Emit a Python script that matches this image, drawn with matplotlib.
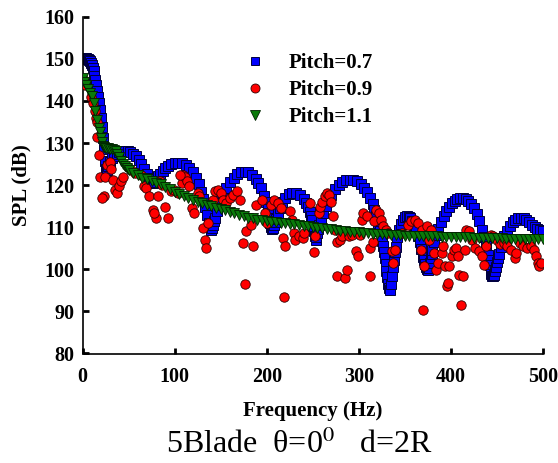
import matplotlib
matplotlib.use("Agg")
import matplotlib.pyplot as plt
from matplotlib.lines import Line2D

plt.rcParams['font.family'] = ['Liberation Serif', 'DejaVu Serif']
plt.rcParams['mathtext.fontset'] = 'stix'

# ---------------- data ----------------
blue_f = [0, 1, 2, 3, 4, 5, 6, 7, 8, 9, 10, 11, 12, 13, 14, 15, 16, 17, 18, 19, 20, 21, 22, 23, 24, 25, 26,
          27, 28, 30, 32, 34, 37, 40, 43, 46, 49, 52, 55, 58, 61, 64, 67, 70, 72, 74, 76, 77,
          78, 80, 82, 84, 87, 90, 93, 96, 100, 104, 108, 112, 116, 120, 123, 126, 129, 131, 133, 135, 137, 139, 140,
          141, 142, 143, 144, 146, 148, 150, 153, 156, 160, 164, 168, 172, 176, 180, 184, 188, 191, 194, 197, 199,
          201, 202, 203, 204, 205, 206,
          207, 208, 209, 210, 212, 214, 217, 220, 224, 228, 232, 236, 240, 243, 245, 247, 248, 249, 250, 251, 252, 253,
          254, 255, 256, 257, 259, 261, 264, 267, 270, 274, 278, 282, 286, 290, 294, 298, 302, 306, 309, 312, 315,
          317, 319, 321, 323, 325, 326, 327, 328, 329, 330, 331, 332, 333, 334,
          335, 336, 337, 338, 339, 340, 342, 344, 346, 348, 350, 352, 354, 356, 358, 360, 362, 364, 366, 368, 370,
          371, 372, 373, 374, 375, 376,
          377, 378, 379, 380, 382, 384, 386, 389, 392, 395, 398, 401, 404, 407, 410, 413, 416, 419, 422, 425, 428,
          431, 434, 436, 438, 440, 441, 442, 443, 444, 445, 446, 447,
          448, 449, 450, 451, 452, 454, 456, 458, 461, 464, 467, 470, 473, 476, 479, 482, 485, 488, 491, 494, 497, 500]
blue_v = [150.1, 150.1, 150.1, 150.1, 150.1, 150.0, 150.0, 149.8, 149.5, 149.1, 148.5, 147.8, 147.0, 146.0, 144.9,
          143.7, 142.4, 141.0, 139.5, 137.8, 135.9, 133.7, 131.2, 128.5, 125.8, 123.8, 123.0,
          123.6, 124.5, 125.6, 126.4, 127.0, 127.5, 127.8, 128.0, 128.1, 128.0, 127.8, 127.4, 126.8, 126.0, 125.0,
          123.8, 122.6, 121.8, 121.1, 120.6, 120.4,
          120.7, 121.4, 122.1, 122.7, 123.4, 124.0, 124.5, 124.9, 125.2, 125.3, 125.2, 124.8, 124.1, 123.0, 121.8,
          120.3, 118.3, 116.7, 114.9, 112.9, 110.9, 109.6, 109.4,
          109.8, 110.5, 111.4, 112.3, 113.9, 115.3, 116.5, 118.0, 119.3, 120.7, 121.8, 122.6, 123.1, 123.2, 123.0,
          122.4, 121.5, 120.5, 119.2, 117.5, 116.0,
          114.3, 113.3, 112.2, 111.1, 110.1, 109.5,
          109.8, 110.5, 111.3, 112.0, 113.4, 114.6, 116.0, 117.0, 117.8, 118.1, 118.1, 117.7, 116.8, 115.8, 114.8,
          113.5, 112.6, 111.6, 110.4, 109.1, 107.8, 107.0,
          107.6, 108.6, 109.6, 110.5, 112.0, 113.3, 115.0, 116.5, 117.7, 119.0, 120.0, 120.7, 121.1, 121.3, 121.3,
          121.0, 120.3, 119.3, 118.3, 117.0, 115.4,
          114.1, 112.6, 110.9, 109.0, 106.8, 105.5, 104.2, 102.8, 101.3, 99.7, 98.1, 96.6, 95.6, 95.2,
          96.5, 98.5, 100.5, 102.3, 104.0, 105.4, 107.7, 109.4, 110.7, 111.7, 112.4, 112.6, 112.5, 112.1, 111.4,
          110.5, 109.4, 108.0, 106.5, 104.8, 103.0,
          102.1, 101.2, 100.5, 100.0, 99.9, 100.2,
          101.4, 102.6, 103.7, 104.7, 106.5, 108.1, 109.5, 111.2, 112.7, 113.9, 114.9, 115.7, 116.3, 116.7, 116.9,
          116.9, 116.7, 116.2, 115.5, 114.5, 113.2,
          111.5, 109.3, 107.6, 105.6, 103.4, 102.2, 101.0, 99.9, 99.0, 98.4, 98.3, 98.6,
          99.5, 100.6, 101.7, 102.7, 103.6, 105.2, 106.6, 107.8, 109.2, 110.3, 111.2, 111.8, 112.2, 112.3, 112.1,
          111.7, 111.2, 110.6, 110.1, 109.6, 109.3, 109.0]

red_f = [0, 3, 9, 11.6, 14, 14.7, 15.5, 15.5, 17.8, 19.3, 23.2, 21.7, 24.4, 26.3, 30, 31, 33.3, 34.8, 37, 39.8,
         41.8, 43.7, 49.5, 53, 57, 63, 67, 69, 72.7, 76.6, 79.7, 77.7, 82.4, 84.3, 86.2, 90, 92.8, 95.9, 99.8,
         103.6, 107.5, 109.4, 111.4, 113.3, 115.2, 105.6, 119.1, 121, 124.9, 126.8, 130.7, 132.6, 133.8, 136.5,
         141.5, 144.2, 147, 150, 153, 155.8, 159.7, 163.6, 167.4, 171.3, 174, 176.3, 177.1, 185.6, 182.9, 188.7,
         194.5, 198.4, 200.3, 204.2, 208, 211.9, 215.8, 217.7, 219.6, 218.5, 225.4, 227.4, 229.3, 231.2, 235,
         238.9, 240.9, 246.7, 252.5, 251.4, 256.4, 258.3, 260.2, 262.9, 265.3, 268, 270, 271.9, 273.8, 275.8,
         275.8, 279.6, 282.3, 285.4, 287.3, 289.2, 293.1, 297, 299, 301, 303, 304.7, 308.6, 311.7, 312.5, 315.5,
         316.3, 318.3, 322.1, 324, 326, 329.8, 331.8, 335.6, 337.6, 339.5, 347.2, 353, 357, 360.8, 364.7, 368.6,
         369.7, 367.7, 371.2, 374.3, 378.2, 376.3, 382.1, 384, 386, 389.8, 391.8, 393.7, 395.6, 396.8, 398.3,
         401.4, 403.3, 405.3, 407.2, 409.1, 411, 413, 415, 416.9, 420, 422.7, 426.5, 430.4, 434.3, 436.1, 438.1,
         443.1, 445.8, 449.7, 453.6, 457.4, 461.3, 465.2, 469.1, 471, 474.9, 478.7, 482.6, 486.5, 490.4, 492.3,
         495.1, 496.1, 498]
red_v = [145.2, 143.8, 141.0, 139.4, 137.5, 135.9, 135.1, 131.5, 127.2, 122.0, 117.3, 116.9, 122.0, 124.8,
         125.6, 123.8, 121.3, 118.9, 118.1, 119.7, 120.9, 122.0, 124.4, 123.6, 122.8, 122.4, 119.7, 119.3, 117.3,
         114.2, 112.2, 113.4, 117.3, 120.9, 120.1, 114.9, 112.2, 118.5, 118.9, 118.1, 120.5, 122.4, 122.0, 120.9,
         119.7, 122.4, 114.5, 113.4, 118.1, 117.3, 109.8, 107.0, 105.0, 111.0,
         116.5, 118.5, 118.9, 118.1, 116.5, 115.7, 116.9, 117.7, 118.5, 116.5, 106.2, 96.4, 109.0, 105.5, 110.6,
         115.3, 116.5, 113.4, 111.0, 115.3, 116.5, 115.7, 114.5, 107.4, 105.5, 93.4, 113.8, 111.8, 108.6, 107.0,
         107.8, 107.4, 108.6, 115.7, 107.8, 104.0, 113.4, 114.9, 116.1, 117.3, 118.1, 117.7, 116.1, 112.6, 109.4,
         106.6, 98.3, 107.0, 107.8, 97.9, 99.9, 107.8, 108.2, 104.3, 103.1, 108.2, 111.8, 113.4, 112.6, 105.1,
         98.3, 106.6, 111.4, 114.2, 113.4, 111.8, 110.2, 109.4, 108.6, 104.3, 101.5, 104.7, 108.6, 110.6, 111.4,
         111.8, 111.0, 109.4, 90.4, 104.7, 100.7, 110.2, 109.4, 107.0, 103.9, 99.9, 101.5, 103.9, 105.5, 100.7,
         96.0, 96.8, 100.7, 103.1, 104.7, 105.1, 103.1, 98.7, 91.6, 98.5, 104.5, 109.4, 109.0, 107.0, 105.1,
         104.3, 103.1, 101.1, 105.5, 108.2, 107.8, 107.0, 105.9, 106.2, 105.5, 104.7, 102.7, 103.9, 106.2, 105.5,
         105.1, 105.5, 104.7, 103.1, 101.5, 100.7, 101.5]

green_f = [0, 2, 4, 6, 8, 10, 12, 14, 16, 18, 19, 20, 21, 22, 23, 24, 26, 28, 30, 32, 34, 36, 38, 40, 42, 44,
           46, 48, 50, 55, 60, 65, 70, 75, 80, 85, 90, 95, 100, 105, 110, 115, 120, 125, 130, 135, 140, 145,
           150, 155, 160, 165, 170, 175, 180, 185, 190, 195, 200, 205, 210, 215, 220, 225, 230, 235, 240, 245,
           250, 255, 260, 265, 270, 275, 280, 285, 290, 295, 300, 305, 310, 315, 320, 325, 330, 335, 340, 345,
           350, 355, 360, 365, 370, 375, 380, 385, 390, 395, 400, 405, 410, 415, 420, 425, 430, 435, 440, 445,
           450, 455, 460, 465, 470, 475, 480, 485, 490, 495, 500]
green_v = [145.4, 144.6, 143.7, 142.8, 141.9, 141.1, 139.6, 137.5, 135.4, 133.6, 132.5, 131.3, 130.2, 129.4,
           129.0, 128.9, 128.8, 128.7, 128.6, 128.5, 128.3, 128.0, 127.4, 126.6, 125.8, 125.1,
           124.5, 124.0, 123.6, 122.9, 122.3, 121.8, 121.4, 121.0, 120.6, 120.2, 119.6, 119.0, 118.4, 117.9,
           117.4, 116.9, 116.5, 116.1, 115.7, 115.3, 115.0, 114.6,
           114.3, 114.0, 113.7, 113.3, 113.0, 112.6, 112.3, 112.1, 111.8, 111.6, 111.5, 111.3, 111.2, 111.1,
           111.0, 110.8, 110.7, 110.5, 110.4, 110.2,
           110.1, 109.9, 109.8, 109.6, 109.5, 109.3, 109.2, 109.1, 108.9, 108.8, 108.8, 108.7, 108.6, 108.5,
           108.4, 108.4, 108.3, 108.2, 108.2, 108.1,
           108.0, 108.0, 107.9, 107.9, 107.8, 107.8, 107.8, 107.8, 107.7, 107.7, 107.7, 107.7, 107.7, 107.6,
           107.6, 107.5, 107.5, 107.5, 107.4, 107.4,
           107.4, 107.4, 107.3, 107.3, 107.3, 107.3, 107.2, 107.2, 107.2, 107.2, 107.2]

series_labels = ['Pitch=0.7', 'Pitch=0.9', 'Pitch=1.1']
x_ticks = [0, 100, 200, 300, 400, 500]
y_ticks = [80, 90, 100, 110, 120, 130, 140, 150, 160]

# ---------------- figure ----------------
W, H = 558, 463
fig = plt.figure(figsize=(W / 100, H / 100), dpi=100)
ax = fig.add_axes([82.5 / W, 1 - 353.5 / H, 460.5 / W, 336.8 / H])

blue_style = dict(ls='none', marker='s', mfc='#0000ff', mec='#00003c', mew=0.7)
red_style = dict(ls='none', marker='o', mfc='#ff0000', mec='#300000', mew=0.6)
green_style = dict(ls='none', marker='v', mfc='#0a7a0a', mec='#002000', mew=0.6)

ax.plot(blue_f, blue_v, ms=7.4, label=series_labels[0], zorder=2, **blue_style)
ax.plot(red_f, red_v, ms=6.8, label=series_labels[1], zorder=3, **red_style)
ax.plot(green_f, green_v, ms=6.6, label=series_labels[2], zorder=4, **green_style)

ax.set_xlim(0, 500)
ax.set_ylim(80, 160)
ax.set_xticks(x_ticks)
ax.set_yticks(y_ticks)
for s in ['top', 'right']:
    ax.spines[s].set_visible(False)
for s in ['left', 'bottom']:
    ax.spines[s].set_linewidth(1.2)
ax.tick_params(direction='in', length=4, width=2, labelsize=14.5)
ax.tick_params(axis='x', pad=10)
ax.tick_params(axis='y', pad=6)
for lab in ax.get_xticklabels() + ax.get_yticklabels():
    lab.set_fontweight('bold')

ax.set_xlabel('Frequency (Hz)', fontsize=15, fontweight='bold')
ax.set_ylabel('SPL (dB)', fontsize=15, fontweight='bold')
ax.xaxis.set_label_coords(0.5, -0.14)
ax.yaxis.set_label_coords(-0.11, 0.5)

handles = [Line2D([], [], ms=6.3, **blue_style),
           Line2D([], [], ms=6.5, **red_style),
           Line2D([], [], ms=6.5, **green_style)]
leg = ax.legend(handles, series_labels, loc='upper left', bbox_to_anchor=(0.353, 0.8915),
                frameon=False, prop={'weight': 'bold', 'size': 15}, handlelength=1.0,
                handletextpad=1.1, labelspacing=0.33, borderpad=0, borderaxespad=0, numpoints=1)

fig.text(299 / W, 1 - 445 / H, '5Blade  \u03b8=0$^{0}$   d=2R', ha='center', va='center', fontsize=23)

fig.savefig('out.png', dpi=100)
